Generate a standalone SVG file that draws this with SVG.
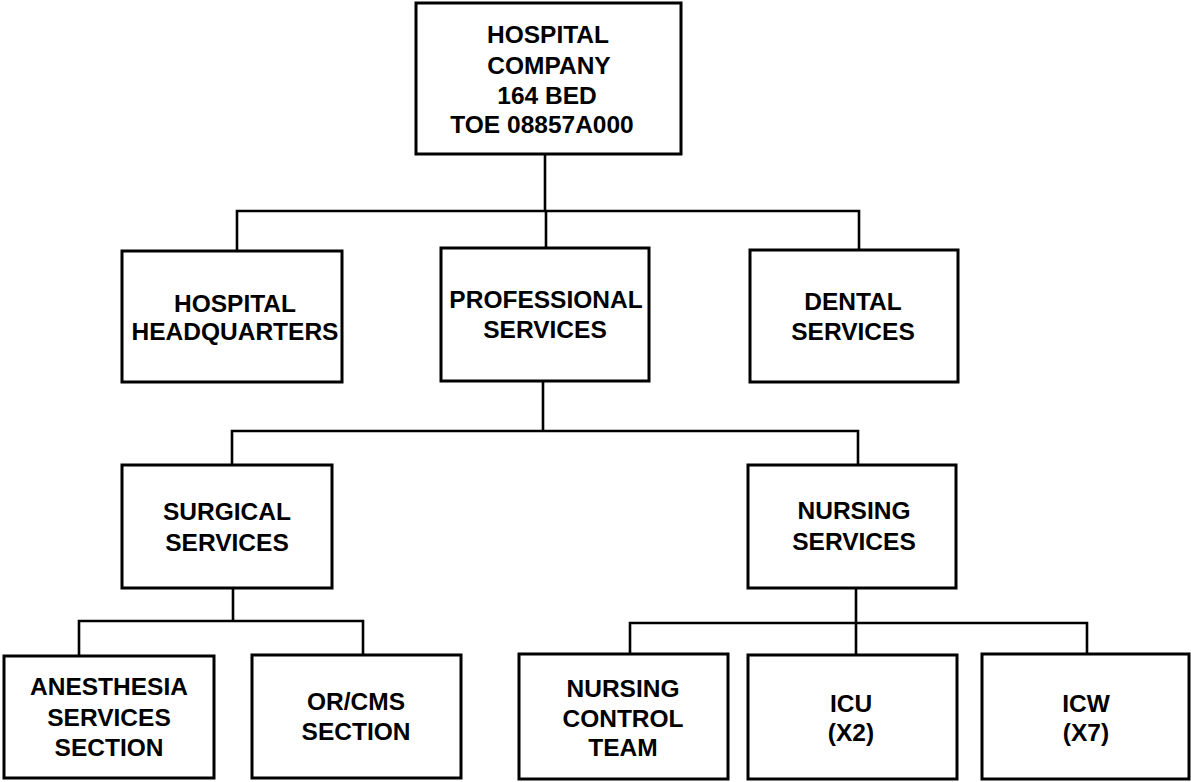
<svg xmlns="http://www.w3.org/2000/svg" width="1191" height="782" viewBox="0 0 1191 782">
  <style>
    .box { fill: #ffffff; stroke: #000000; stroke-width: 3; }
    .wire { fill: none; stroke: #000000; stroke-width: 2.6; stroke-linecap: square; }
    text { font-family: "Liberation Sans", Arial, sans-serif; font-weight: bold; font-size: 24.5px; fill: #000000; text-anchor: middle; }
  </style>
  <rect width="1191" height="782" fill="#ffffff"/>

  <!-- tree connectors -->
  <g id="connectors">
    <path class="wire" d="M545 154 V211 M237 211 H859 M237 211 V251 M546 211 V248 M859 211 V250"/>
    <path class="wire" d="M543 381 V431 M232 431 H858 M232 431 V465 M858 431 V465"/>
    <path class="wire" d="M233 588 V621 M79 621 H363 M79 621 V656 M363 621 V655"/>
    <path class="wire" d="M856 588 V655 M630 623 H1087 M630 623 V654 M1087 623 V654"/>
  </g>

  <g id="hospital-company">
    <rect class="box" x="416" y="3" width="265" height="151"/>
    <text x="548" y="43">HOSPITAL</text>
    <text x="549" y="74">COMPANY</text>
    <text x="547" y="104">164 BED</text>
    <text x="542" y="133">TOE 08857A000</text>
  </g>

  <g id="hospital-headquarters">
    <rect class="box" x="122" y="251" width="220" height="131"/>
    <text x="235" y="312">HOSPITAL</text>
    <text x="235" y="340">HEADQUARTERS</text>
  </g>

  <g id="professional-services">
    <rect class="box" x="441" y="248" width="208" height="133"/>
    <text x="546" y="308">PROFESSIONAL</text>
    <text x="545" y="338">SERVICES</text>
  </g>

  <g id="dental-services">
    <rect class="box" x="750" y="250" width="208" height="132"/>
    <text x="853" y="310">DENTAL</text>
    <text x="853" y="340">SERVICES</text>
  </g>

  <g id="surgical-services">
    <rect class="box" x="122" y="465" width="210" height="123"/>
    <text x="227" y="520">SURGICAL</text>
    <text x="227" y="551">SERVICES</text>
  </g>

  <g id="nursing-services">
    <rect class="box" x="748" y="465" width="208" height="123"/>
    <text x="854" y="519">NURSING</text>
    <text x="854" y="550">SERVICES</text>
  </g>

  <g id="anesthesia-section">
    <rect class="box" x="4" y="656" width="210" height="122"/>
    <text x="109" y="695">ANESTHESIA</text>
    <text x="109" y="726">SERVICES</text>
    <text x="109" y="756">SECTION</text>
  </g>

  <g id="or-cms-section">
    <rect class="box" x="252" y="655" width="209" height="123"/>
    <text x="356" y="710">OR/CMS</text>
    <text x="356" y="740">SECTION</text>
  </g>

  <g id="nursing-control-team">
    <rect class="box" x="519" y="654" width="209" height="125"/>
    <text x="623" y="697">NURSING</text>
    <text x="623" y="727">CONTROL</text>
    <text x="623" y="756">TEAM</text>
  </g>

  <g id="icu">
    <rect class="box" x="748" y="655" width="209" height="124"/>
    <text x="851" y="712">ICU</text>
    <text x="851" y="741">(X2)</text>
  </g>

  <g id="icw">
    <rect class="box" x="982" y="654" width="207" height="125"/>
    <text x="1086" y="712">ICW</text>
    <text x="1086" y="741">(X7)</text>
  </g>
</svg>
